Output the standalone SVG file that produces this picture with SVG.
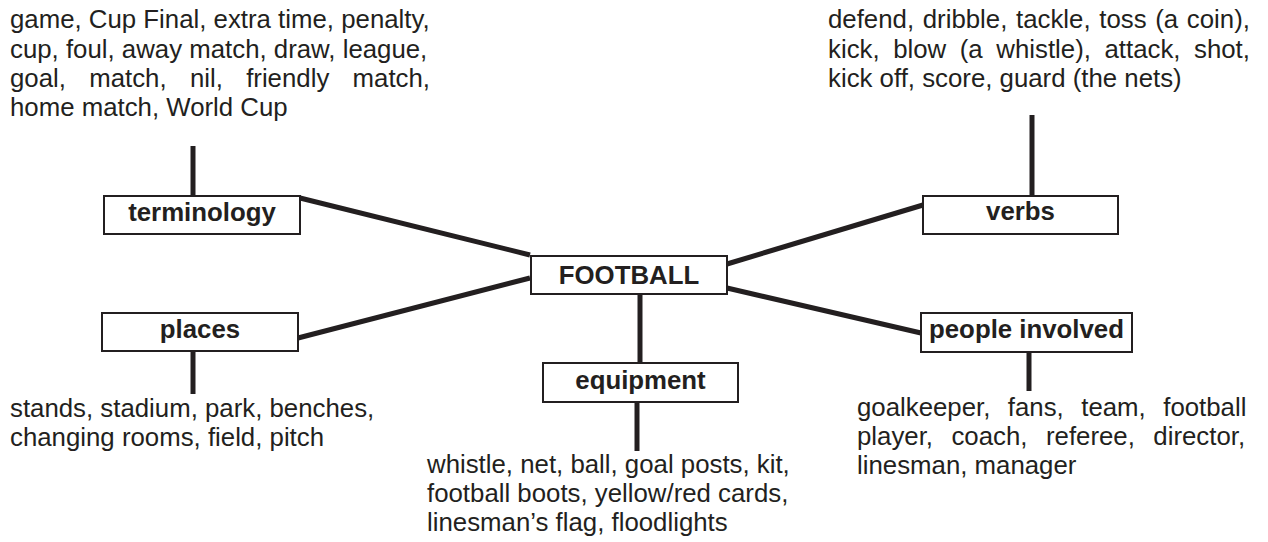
<svg xmlns="http://www.w3.org/2000/svg" width="1268" height="542" viewBox="0 0 1268 542">
  <style>
    .bg { fill: #ffffff; }
    .link { stroke: #231f20; stroke-width: 5; fill: none; stroke-linecap: butt; }
    .box { fill: #ffffff; stroke: #231f20; stroke-width: 2; }
    .label { font-family: "Liberation Sans", Arial, Helvetica, sans-serif; font-size: 25.8px; font-weight: bold; fill: #231f20; text-anchor: middle; }
    .words { font-family: "Liberation Sans", Arial, Helvetica, sans-serif; font-size: 25.8px; fill: #231f20; }
  </style>

  <rect class="bg" x="0" y="0" width="1268" height="542"/>

  <!-- connectors -->
  <g id="connectors">
    <line class="link" x1="300" y1="198" x2="530" y2="255"/>
    <line class="link" x1="298" y1="338" x2="530" y2="278"/>
    <line class="link" x1="727" y1="264" x2="923" y2="205"/>
    <line class="link" x1="727" y1="288" x2="921" y2="333"/>
    <line class="link" x1="640" y1="294" x2="640" y2="363"/>
    <line class="link" x1="193" y1="146" x2="193" y2="196"/>
    <line class="link" x1="1032" y1="115" x2="1032" y2="196"/>
    <line class="link" x1="193" y1="351" x2="193" y2="394"/>
    <line class="link" x1="1029" y1="352" x2="1029" y2="391"/>
    <line class="link" x1="637" y1="402" x2="637" y2="451"/>
  </g>

  <!-- central topic -->
  <g id="football">
    <rect class="box" x="531" y="256" width="196" height="38"/>
    <text class="label" x="629" y="284">FOOTBALL</text>
  </g>

  <!-- terminology branch -->
  <g id="terminology">
    <rect class="box" x="104" y="196" width="196" height="38"/>
    <text class="label" x="202" y="221">terminology</text>
  </g>
  <g id="terminology-words">
    <text class="words" x="10" y="28">game, Cup Final, extra time, penalty,</text>
    <text class="words" x="10" y="57.5">cup, foul, away match, draw, league,</text>
    <text class="words" x="10" y="87" word-spacing="16.1">goal, match, nil, friendly match,</text>
    <text class="words" x="10" y="116">home match, World Cup</text>
  </g>

  <!-- verbs branch -->
  <g id="verbs">
    <rect class="box" x="923" y="196" width="195" height="38"/>
    <text class="label" x="1020.5" y="220">verbs</text>
  </g>
  <g id="verbs-words">
    <text class="words" x="828" y="28" word-spacing="1.5">defend, dribble, tackle, toss (a coin),</text>
    <text class="words" x="828" y="57.5" word-spacing="6.4">kick, blow (a whistle), attack, shot,</text>
    <text class="words" x="828" y="87">kick off, score, guard (the nets)</text>
  </g>

  <!-- places branch -->
  <g id="places">
    <rect class="box" x="102" y="313" width="196" height="38"/>
    <text class="label" x="200" y="338">places</text>
  </g>
  <g id="places-words">
    <text class="words" x="10" y="417">stands, stadium, park, benches,</text>
    <text class="words" x="10" y="446">changing rooms, field, pitch</text>
  </g>

  <!-- people involved branch -->
  <g id="people-involved">
    <rect class="box" x="921" y="313" width="211" height="39"/>
    <text class="label" x="1026.5" y="338">people involved</text>
  </g>
  <g id="people-words">
    <text class="words" x="857" y="416" word-spacing="10.3">goalkeeper, fans, team, football</text>
    <text class="words" x="857" y="445" word-spacing="11.3">player, coach, referee, director,</text>
    <text class="words" x="857" y="474">linesman, manager</text>
  </g>

  <!-- equipment branch -->
  <g id="equipment">
    <rect class="box" x="543" y="363" width="195" height="39"/>
    <text class="label" x="640.5" y="389">equipment</text>
  </g>
  <g id="equipment-words">
    <text class="words" x="427" y="473">whistle, net, ball, goal posts, kit,</text>
    <text class="words" x="427" y="502">football boots, yellow/red cards,</text>
    <text class="words" x="427" y="531">linesman’s flag, floodlights</text>
  </g>
</svg>
